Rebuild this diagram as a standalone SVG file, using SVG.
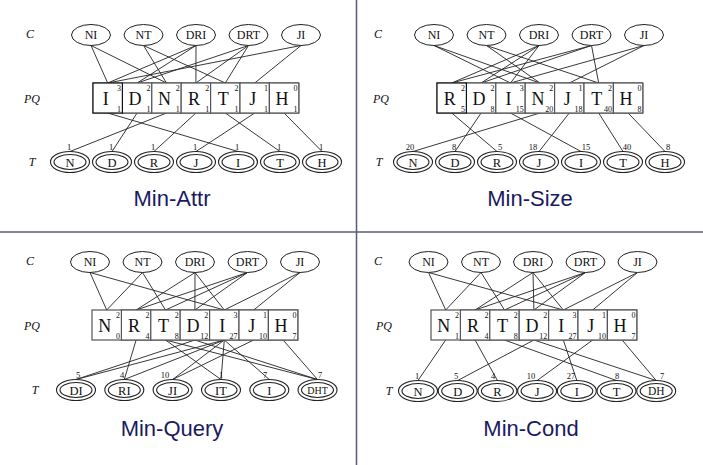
<svg xmlns="http://www.w3.org/2000/svg" width="703" height="465" viewBox="0 0 703 465">
<style>
text{font-family:"Liberation Serif","Times New Roman",serif;fill:#111}
.lbl{font-style:italic;font-size:12px;text-anchor:middle}
.ce{fill:#fff;stroke:#222;stroke-width:1}
.ct{font-size:12px;text-anchor:middle}
.box{fill:#fff;stroke:#555;stroke-width:1.2}
.box0{fill:#fff;stroke:#111;stroke-width:1.2}
.bl{font-size:18px;text-anchor:middle}
.sup{font-size:8px;text-anchor:end}
.to{fill:#fff;stroke:#222;stroke-width:1.1}
.ti{fill:none;stroke:#222;stroke-width:1.1}
.tt{font-size:12.5px;text-anchor:middle}
.num{font-size:8.5px;text-anchor:middle}
.e{stroke:#222;stroke-width:0.9;fill:none}
.title{font-family:"Liberation Sans",Arial,sans-serif;font-size:22px;fill:#1a1a60;text-anchor:middle}
.div{stroke:#5a5a7a;stroke-width:1.5}
</style>
<defs>
<g id="dbl"><ellipse class="to" rx="19.5" ry="10.5"/><ellipse class="ti" rx="16" ry="7.5"/></g>
</defs>

<g id="dividers">
<line class="div" x1="356.5" y1="0" x2="356.5" y2="465"/>
<line class="div" x1="0" y1="232" x2="703" y2="232"/>
</g>

<g id="connectors">
<g id="conn-tl">
<path class="e" d="M91 45.5L107.7 83M91 45.5L166.5 83M143.5 45.5L166.5 83M143.5 45.5L225.3 83M196 45.5L137.1 83M196 45.5L195.9 83M196 45.5L107.7 83M248.5 45.5L137.1 83M248.5 45.5L195.9 83M248.5 45.5L225.3 83M301 45.5L254.7 83M301 45.5L107.7 83"/>
<path class="e" d="M107.7 113L238 151.5M137.1 113L112 151.5M166.5 113L70 151.5M195.9 113L154 151.5M225.3 113L280 151.5M254.7 113L196 151.5M284.1 113L322 151.5"/>
</g>
<g id="conn-tr">
<path class="e" d="M434 45.5L510.5 83M434 45.5L539.9 83M486.5 45.5L539.9 83M486.5 45.5L598.7 83M539 45.5L481.1 83M539 45.5L451.7 83M539 45.5L510.5 83M591.5 45.5L481.1 83M591.5 45.5L451.7 83M591.5 45.5L598.7 83M644 45.5L569.3 83M644 45.5L510.5 83"/>
<path class="e" d="M451.7 113L497 151.5M481.1 113L455 151.5M510.5 113L581 151.5M539.9 113L413 151.5M569.3 113L539 151.5M598.7 113L623 151.5M628.1 113L665 151.5"/>
</g>
<g id="conn-bl">
<path class="e" d="M90 272.5L106.7 310M90 272.5L224.3 310M142.5 272.5L106.7 310M142.5 272.5L165.5 310M195 272.5L194.9 310M195 272.5L136.1 310M195 272.5L224.3 310M247.5 272.5L194.9 310M247.5 272.5L136.1 310M247.5 272.5L165.5 310M300 272.5L253.7 310M300 272.5L224.3 310"/>
<path class="e" d="M136.1 340L124.3 379.5M165.5 340L221 379.5M165.5 340L317.5 379.5M194.9 340L76 379.5M194.9 340L317.5 379.5M224.3 340L76 379.5M224.3 340L124.3 379.5M224.3 340L172.6 379.5M224.3 340L221 379.5M224.3 340L269.3 379.5M253.7 340L172.6 379.5M283.1 340L317.5 379.5"/>
</g>
<g id="conn-br">
<path class="e" d="M428.5 272.5L445.7 310M428.5 272.5L563.3 310M481 272.5L445.7 310M481 272.5L504.5 310M533 272.5L533.9 310M533 272.5L475.1 310M533 272.5L563.3 310M585.5 272.5L533.9 310M585.5 272.5L475.1 310M585.5 272.5L504.5 310M637.5 272.5L592.7 310M637.5 272.5L563.3 310"/>
<path class="e" d="M445.7 340L418 380.5M475.1 340L497.4 380.5M504.5 340L616.5 380.5M533.9 340L457.7 380.5M533.9 340L656.2 380.5M563.3 340L576.8 380.5M592.7 340L537.1 380.5M622.1 340L656.2 380.5"/>
</g>
</g>

<g id="q-tl">
<text class="lbl" x="30" y="38">C</text>
<text class="lbl" x="32" y="103">PQ</text>
<text class="lbl" x="32" y="166">T</text>
<g id="tl-c-NI"><ellipse class="ce" cx="91" cy="35" rx="19.5" ry="10.5"/><text class="ct" x="91" y="39">NI</text></g>
<g id="tl-c-NT"><ellipse class="ce" cx="143.5" cy="35" rx="19.5" ry="10.5"/><text class="ct" x="143.5" y="39">NT</text></g>
<g id="tl-c-DRI"><ellipse class="ce" cx="196" cy="35" rx="19.5" ry="10.5"/><text class="ct" x="196" y="39">DRI</text></g>
<g id="tl-c-DRT"><ellipse class="ce" cx="248.5" cy="35" rx="19.5" ry="10.5"/><text class="ct" x="248.5" y="39">DRT</text></g>
<g id="tl-c-JI"><ellipse class="ce" cx="301" cy="35" rx="19.5" ry="10.5"/><text class="ct" x="301" y="39">JI</text></g>
<g id="tl-pq">
<rect class="box" x="93" y="83" width="205.8" height="30"/>
<rect class="box" x="122.4" y="83" width="29.4" height="30"/><rect class="box" x="151.8" y="83" width="29.4" height="30"/><rect class="box" x="181.2" y="83" width="29.4" height="30"/><rect class="box" x="210.6" y="83" width="29.4" height="30"/><rect class="box" x="240" y="83" width="29.4" height="30"/><rect class="box" x="269.4" y="83" width="29.4" height="30"/>
<rect class="box0" x="93" y="83" width="29.4" height="30"/>
<text class="bl" x="105.7" y="105">I</text><text class="sup" x="121" y="91">3</text><text class="sup" x="121" y="111.5">1</text>
<text class="bl" x="135.1" y="105">D</text><text class="sup" x="150.4" y="91">2</text><text class="sup" x="150.4" y="111.5">1</text>
<text class="bl" x="164.5" y="105">N</text><text class="sup" x="179.8" y="91">2</text><text class="sup" x="179.8" y="111.5">1</text>
<text class="bl" x="193.9" y="105">R</text><text class="sup" x="209.2" y="91">2</text><text class="sup" x="209.2" y="111.5">1</text>
<text class="bl" x="223.3" y="105">T</text><text class="sup" x="238.6" y="91">2</text><text class="sup" x="238.6" y="111.5">1</text>
<text class="bl" x="252.7" y="105">J</text><text class="sup" x="268" y="91">1</text><text class="sup" x="268" y="111.5">1</text>
<text class="bl" x="282.1" y="105">H</text><text class="sup" x="297.4" y="91">0</text><text class="sup" x="297.4" y="111.5">1</text>
</g>
<g id="tl-t-N"><use href="#dbl" x="70" y="162"/><text class="tt" x="70" y="166.5">N</text><text class="num" x="69" y="150">1</text></g>
<g id="tl-t-D"><use href="#dbl" x="112" y="162"/><text class="tt" x="112" y="166.5">D</text><text class="num" x="111" y="150">1</text></g>
<g id="tl-t-R"><use href="#dbl" x="154" y="162"/><text class="tt" x="154" y="166.5">R</text><text class="num" x="153" y="150">1</text></g>
<g id="tl-t-J"><use href="#dbl" x="196" y="162"/><text class="tt" x="196" y="166.5">J</text><text class="num" x="195" y="150">1</text></g>
<g id="tl-t-I"><use href="#dbl" x="238" y="162"/><text class="tt" x="238" y="166.5">I</text><text class="num" x="237" y="150">1</text></g>
<g id="tl-t-T"><use href="#dbl" x="280" y="162"/><text class="tt" x="280" y="166.5">T</text><text class="num" x="279" y="150">1</text></g>
<g id="tl-t-H"><use href="#dbl" x="322" y="162"/><text class="tt" x="322" y="166.5">H</text><text class="num" x="321" y="150">1</text></g>
<text class="title" x="172" y="206">Min-Attr</text>
</g>

<g id="q-tr">
<text class="lbl" x="378" y="38">C</text>
<text class="lbl" x="381" y="103">PQ</text>
<text class="lbl" x="379" y="166">T</text>
<g id="tr-c-NI"><ellipse class="ce" cx="434" cy="35" rx="19.5" ry="10.5"/><text class="ct" x="434" y="39">NI</text></g>
<g id="tr-c-NT"><ellipse class="ce" cx="486.5" cy="35" rx="19.5" ry="10.5"/><text class="ct" x="486.5" y="39">NT</text></g>
<g id="tr-c-DRI"><ellipse class="ce" cx="539" cy="35" rx="19.5" ry="10.5"/><text class="ct" x="539" y="39">DRI</text></g>
<g id="tr-c-DRT"><ellipse class="ce" cx="591.5" cy="35" rx="19.5" ry="10.5"/><text class="ct" x="591.5" y="39">DRT</text></g>
<g id="tr-c-JI"><ellipse class="ce" cx="644" cy="35" rx="19.5" ry="10.5"/><text class="ct" x="644" y="39">JI</text></g>
<g id="tr-pq">
<rect class="box" x="437" y="83" width="205.8" height="30"/>
<rect class="box" x="466.4" y="83" width="29.4" height="30"/><rect class="box" x="495.8" y="83" width="29.4" height="30"/><rect class="box" x="525.2" y="83" width="29.4" height="30"/><rect class="box" x="554.6" y="83" width="29.4" height="30"/><rect class="box" x="584" y="83" width="29.4" height="30"/><rect class="box" x="613.4" y="83" width="29.4" height="30"/>
<rect class="box0" x="437" y="83" width="29.4" height="30"/>
<text class="bl" x="449.7" y="105">R</text><text class="sup" x="465" y="91">2</text><text class="sup" x="465" y="111.5">5</text>
<text class="bl" x="479.1" y="105">D</text><text class="sup" x="494.4" y="91">2</text><text class="sup" x="494.4" y="111.5">8</text>
<text class="bl" x="508.5" y="105">I</text><text class="sup" x="523.8" y="91">3</text><text class="sup" x="523.8" y="111.5">15</text>
<text class="bl" x="537.9" y="105">N</text><text class="sup" x="553.2" y="91">2</text><text class="sup" x="553.2" y="111.5">20</text>
<text class="bl" x="567.3" y="105">J</text><text class="sup" x="582.6" y="91">1</text><text class="sup" x="582.6" y="111.5">18</text>
<text class="bl" x="596.7" y="105">T</text><text class="sup" x="612" y="91">2</text><text class="sup" x="612" y="111.5">40</text>
<text class="bl" x="626.1" y="105">H</text><text class="sup" x="641.4" y="91">0</text><text class="sup" x="641.4" y="111.5">8</text>
</g>
<g id="tr-t-N"><use href="#dbl" x="413" y="162"/><text class="tt" x="413" y="166.5">N</text><text class="num" x="410" y="150">20</text></g>
<g id="tr-t-D"><use href="#dbl" x="455" y="162"/><text class="tt" x="455" y="166.5">D</text><text class="num" x="454" y="150">8</text></g>
<g id="tr-t-R"><use href="#dbl" x="497" y="162"/><text class="tt" x="497" y="166.5">R</text><text class="num" x="500" y="150">5</text></g>
<g id="tr-t-J"><use href="#dbl" x="539" y="162"/><text class="tt" x="539" y="166.5">J</text><text class="num" x="533" y="150">18</text></g>
<g id="tr-t-I"><use href="#dbl" x="581" y="162"/><text class="tt" x="581" y="166.5">I</text><text class="num" x="586" y="150">15</text></g>
<g id="tr-t-T"><use href="#dbl" x="623" y="162"/><text class="tt" x="623" y="166.5">T</text><text class="num" x="627" y="150">40</text></g>
<g id="tr-t-H"><use href="#dbl" x="665" y="162"/><text class="tt" x="665" y="166.5">H</text><text class="num" x="668" y="150">8</text></g>
<text class="title" x="530" y="206">Min-Size</text>
</g>

<g id="q-bl">
<text class="lbl" x="30" y="265">C</text>
<text class="lbl" x="32" y="330">PQ</text>
<text class="lbl" x="35" y="394">T</text>
<g id="bl-c-NI"><ellipse class="ce" cx="90" cy="262" rx="19.5" ry="10.5"/><text class="ct" x="90" y="266">NI</text></g>
<g id="bl-c-NT"><ellipse class="ce" cx="142.5" cy="262" rx="19.5" ry="10.5"/><text class="ct" x="142.5" y="266">NT</text></g>
<g id="bl-c-DRI"><ellipse class="ce" cx="195" cy="262" rx="19.5" ry="10.5"/><text class="ct" x="195" y="266">DRI</text></g>
<g id="bl-c-DRT"><ellipse class="ce" cx="247.5" cy="262" rx="19.5" ry="10.5"/><text class="ct" x="247.5" y="266">DRT</text></g>
<g id="bl-c-JI"><ellipse class="ce" cx="300" cy="262" rx="19.5" ry="10.5"/><text class="ct" x="300" y="266">JI</text></g>
<g id="bl-pq">
<rect class="box" x="92" y="310" width="205.8" height="30"/>
<rect class="box" x="121.4" y="310" width="29.4" height="30"/><rect class="box" x="150.8" y="310" width="29.4" height="30"/><rect class="box" x="180.2" y="310" width="29.4" height="30"/><rect class="box" x="209.6" y="310" width="29.4" height="30"/><rect class="box" x="239" y="310" width="29.4" height="30"/><rect class="box" x="268.4" y="310" width="29.4" height="30"/>
<text class="bl" x="104.7" y="332">N</text><text class="sup" x="120" y="318">2</text><text class="sup" x="120" y="338.5">0</text>
<text class="bl" x="134.1" y="332">R</text><text class="sup" x="149.4" y="318">2</text><text class="sup" x="149.4" y="338.5">4</text>
<text class="bl" x="163.5" y="332">T</text><text class="sup" x="178.8" y="318">2</text><text class="sup" x="178.8" y="338.5">8</text>
<text class="bl" x="192.9" y="332">D</text><text class="sup" x="208.2" y="318">2</text><text class="sup" x="208.2" y="338.5">12</text>
<text class="bl" x="222.3" y="332">I</text><text class="sup" x="237.6" y="318">3</text><text class="sup" x="237.6" y="338.5">27</text>
<text class="bl" x="251.7" y="332">J</text><text class="sup" x="267" y="318">1</text><text class="sup" x="267" y="338.5">10</text>
<text class="bl" x="281.1" y="332">H</text><text class="sup" x="296.4" y="318">0</text><text class="sup" x="296.4" y="338.5">7</text>
</g>
<g id="bl-t-DI"><use href="#dbl" x="76" y="390"/><text class="tt" x="76" y="394.5">DI</text><text class="num" x="78" y="378">5</text></g>
<g id="bl-t-RI"><use href="#dbl" x="124.3" y="390"/><text class="tt" x="124.3" y="394.5">RI</text><text class="num" x="122" y="378">4</text></g>
<g id="bl-t-JI"><use href="#dbl" x="172.6" y="390"/><text class="tt" x="172.6" y="394.5">JI</text><text class="num" x="165" y="378">10</text></g>
<g id="bl-t-IT"><use href="#dbl" x="221" y="390"/><text class="tt" x="221" y="394.5">IT</text><text class="num" x="221" y="378">1</text></g>
<g id="bl-t-I"><use href="#dbl" x="269.3" y="390"/><text class="tt" x="269.3" y="394.5">I</text><text class="num" x="265" y="378">7</text></g>
<g id="bl-t-DHT"><use href="#dbl" x="317.5" y="390"/><text class="tt" x="317.5" y="393.5" style="font-size:10px">DHT</text><text class="num" x="320" y="378">7</text></g>
<text class="title" x="172" y="436">Min-Query</text>
</g>

<g id="q-br">
<text class="lbl" x="378" y="265">C</text>
<text class="lbl" x="384" y="330">PQ</text>
<text class="lbl" x="389" y="395">T</text>
<g id="br-c-NI"><ellipse class="ce" cx="428.5" cy="262" rx="19.5" ry="10.5"/><text class="ct" x="428.5" y="266">NI</text></g>
<g id="br-c-NT"><ellipse class="ce" cx="481" cy="262" rx="19.5" ry="10.5"/><text class="ct" x="481" y="266">NT</text></g>
<g id="br-c-DRI"><ellipse class="ce" cx="533" cy="262" rx="19.5" ry="10.5"/><text class="ct" x="533" y="266">DRI</text></g>
<g id="br-c-DRT"><ellipse class="ce" cx="585.5" cy="262" rx="19.5" ry="10.5"/><text class="ct" x="585.5" y="266">DRT</text></g>
<g id="br-c-JI"><ellipse class="ce" cx="637.5" cy="262" rx="19.5" ry="10.5"/><text class="ct" x="637.5" y="266">JI</text></g>
<g id="br-pq">
<rect class="box" x="431" y="310" width="205.8" height="30"/>
<rect class="box" x="460.4" y="310" width="29.4" height="30"/><rect class="box" x="489.8" y="310" width="29.4" height="30"/><rect class="box" x="519.2" y="310" width="29.4" height="30"/><rect class="box" x="548.6" y="310" width="29.4" height="30"/><rect class="box" x="578" y="310" width="29.4" height="30"/><rect class="box" x="607.4" y="310" width="29.4" height="30"/>
<text class="bl" x="443.7" y="332">N</text><text class="sup" x="459" y="318">2</text><text class="sup" x="459" y="338.5">1</text>
<text class="bl" x="473.1" y="332">R</text><text class="sup" x="488.4" y="318">2</text><text class="sup" x="488.4" y="338.5">4</text>
<text class="bl" x="502.5" y="332">T</text><text class="sup" x="517.8" y="318">2</text><text class="sup" x="517.8" y="338.5">8</text>
<text class="bl" x="531.9" y="332">D</text><text class="sup" x="547.2" y="318">2</text><text class="sup" x="547.2" y="338.5">12</text>
<text class="bl" x="561.3" y="332">I</text><text class="sup" x="576.6" y="318">3</text><text class="sup" x="576.6" y="338.5">27</text>
<text class="bl" x="590.7" y="332">J</text><text class="sup" x="606" y="318">1</text><text class="sup" x="606" y="338.5">10</text>
<text class="bl" x="620.1" y="332">H</text><text class="sup" x="635.4" y="318">0</text><text class="sup" x="635.4" y="338.5">7</text>
</g>
<g id="br-t-N"><use href="#dbl" x="418" y="391"/><text class="tt" x="418" y="395.5">N</text><text class="num" x="417" y="379">1</text></g>
<g id="br-t-D"><use href="#dbl" x="457.7" y="391"/><text class="tt" x="457.7" y="395.5">D</text><text class="num" x="456" y="379">5</text></g>
<g id="br-t-R"><use href="#dbl" x="497.4" y="391"/><text class="tt" x="497.4" y="395.5">R</text><text class="num" x="493" y="379">4</text></g>
<g id="br-t-J"><use href="#dbl" x="537.1" y="391"/><text class="tt" x="537.1" y="395.5">J</text><text class="num" x="531" y="379">10</text></g>
<g id="br-t-I"><use href="#dbl" x="576.8" y="391"/><text class="tt" x="576.8" y="395.5">I</text><text class="num" x="571" y="379">27</text></g>
<g id="br-t-T"><use href="#dbl" x="616.5" y="391"/><text class="tt" x="616.5" y="395.5">T</text><text class="num" x="617" y="379">8</text></g>
<g id="br-t-DH"><use href="#dbl" x="656.2" y="391"/><text class="tt" x="656.2" y="395" style="font-size:11.5px">DH</text><text class="num" x="662" y="379">7</text></g>
<text class="title" x="531" y="436">Min-Cond</text>
</g>
</svg>
